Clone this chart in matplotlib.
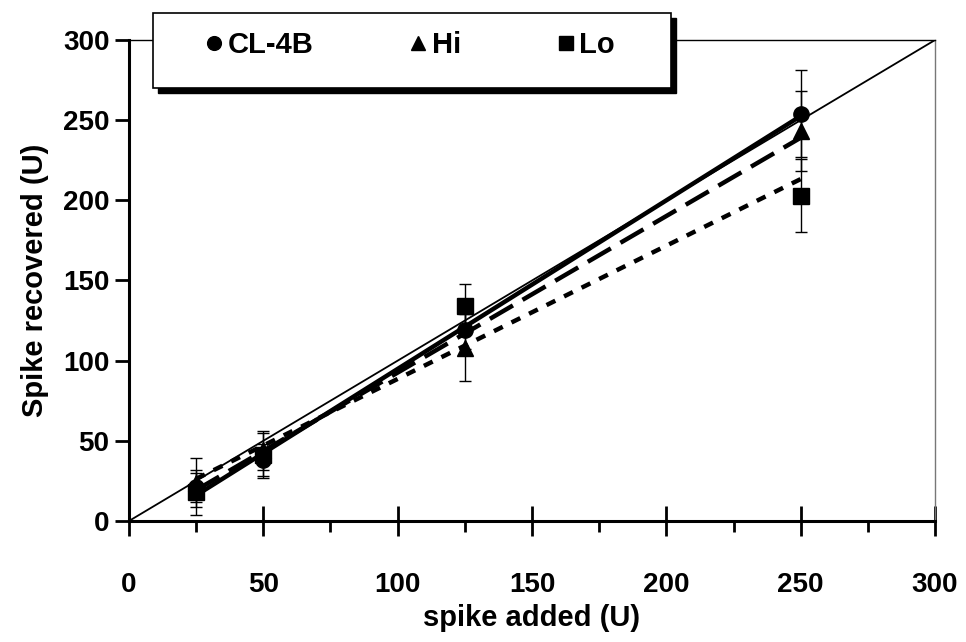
import numpy as np
import matplotlib.pyplot as plt
from matplotlib.patches import Rectangle

# spike added (U)
added = np.array([25, 50, 125, 250])

# spike recovered (U), means and error bars
cl4b = np.array([21, 38, 119, 254])
cl4b_err = np.array([9, 10, 12, 27])
hi = np.array([24, 44, 108, 243])
hi_err = np.array([15, 12, 21, 25])
lo = np.array([18, 41, 134, 203])
lo_err = np.array([14, 14, 14, 23])

labels = ['CL-4B', 'Hi', 'Lo']
markers = ['o', '^', 's']
dashes = [None, (6, 2.5), (2.2, 2.2)]

identity = [0, 300]

plt.rcParams['font.family'] = ['Liberation Sans', 'DejaVu Sans']
plt.rcParams['font.weight'] = 'bold'

fig = plt.figure(figsize=(9.66, 6.42), dpi=100)
ax = fig.add_axes([0.1335, 0.1885, 0.8345, 0.7492])

#line of identity
ax.plot(identity, identity, color='black', lw=1.3, zorder=2)

handles = []
for y, err, lab, mk, ds in zip([cl4b, hi, lo], [cl4b_err, hi_err, lo_err], labels, markers, dashes):
    ax.errorbar(added, y, yerr=err, fmt='none', ecolor='black', elinewidth=1, capsize=4.5, capthick=1, zorder=3)
    #linear fit through the points
    slope, inter = np.polyfit(added, y, 1)
    xs = np.array([added[0], added[-1]])
    line, = ax.plot(xs, slope * xs + inter, color='black', lw=3.2, zorder=4)
    if ds is not None:
        line.set_dashes(ds)
    h, = ax.plot(added, y, linestyle='none', marker=mk, color='black', markersize=11, zorder=5, label=lab)
    handles.append(h)

ax.set_xlim(0, 300)
ax.set_ylim(0, 300)
ax.set_xticks(np.arange(0, 301, 50))
ax.set_xticks(np.arange(25, 300, 50), minor=True)
ax.set_yticks(np.arange(0, 301, 50))

for s in ['left', 'bottom']:
    ax.spines[s].set_linewidth(2.2)
ax.spines['top'].set_linewidth(1.0)
ax.spines['right'].set_linewidth(1.0)
ax.spines['right'].set_color('#777777')

ax.tick_params(axis='x', which='major', direction='inout', length=22, width=2, pad=26, labelsize=20)
ax.tick_params(axis='x', which='minor', direction='out', length=8, width=2)
ax.tick_params(axis='y', which='major', direction='out', length=10, width=2, pad=4, labelsize=20)

ax.set_xlabel('spike added (U)', fontsize=21, fontweight='bold', labelpad=4)
ax.set_ylabel('Spike recovered (U)', fontsize=21, fontweight='bold', labelpad=10)

#legend box with shadow
lx0, ly0, lw_, lh_ = 153 / 966, 1 - 88 / 642, 518 / 966, 75 / 642
fig.patches.append(Rectangle((lx0 + 5 / 966, ly0 - 5 / 642), lw_, lh_, transform=fig.transFigure,
                             facecolor='black', edgecolor='black', zorder=10))
fig.patches.append(Rectangle((lx0, ly0), lw_, lh_, transform=fig.transFigure,
                             facecolor='white', edgecolor='black', lw=1.2, zorder=11))
leg = fig.legend(handles=handles, labels=labels, loc='center', ncol=3,
                 bbox_to_anchor=(lx0 + lw_ / 2 - 0.002, ly0 + lh_ / 2 + 0.008), frameon=False,
                 handlelength=0.6, handletextpad=0.15, columnspacing=3.3,
                 markerscale=0.9, prop={'family': 'Liberation Sans', 'weight': 'bold', 'size': 21})
leg.set_zorder(12)

fig.savefig('out.png', dpi=100)
